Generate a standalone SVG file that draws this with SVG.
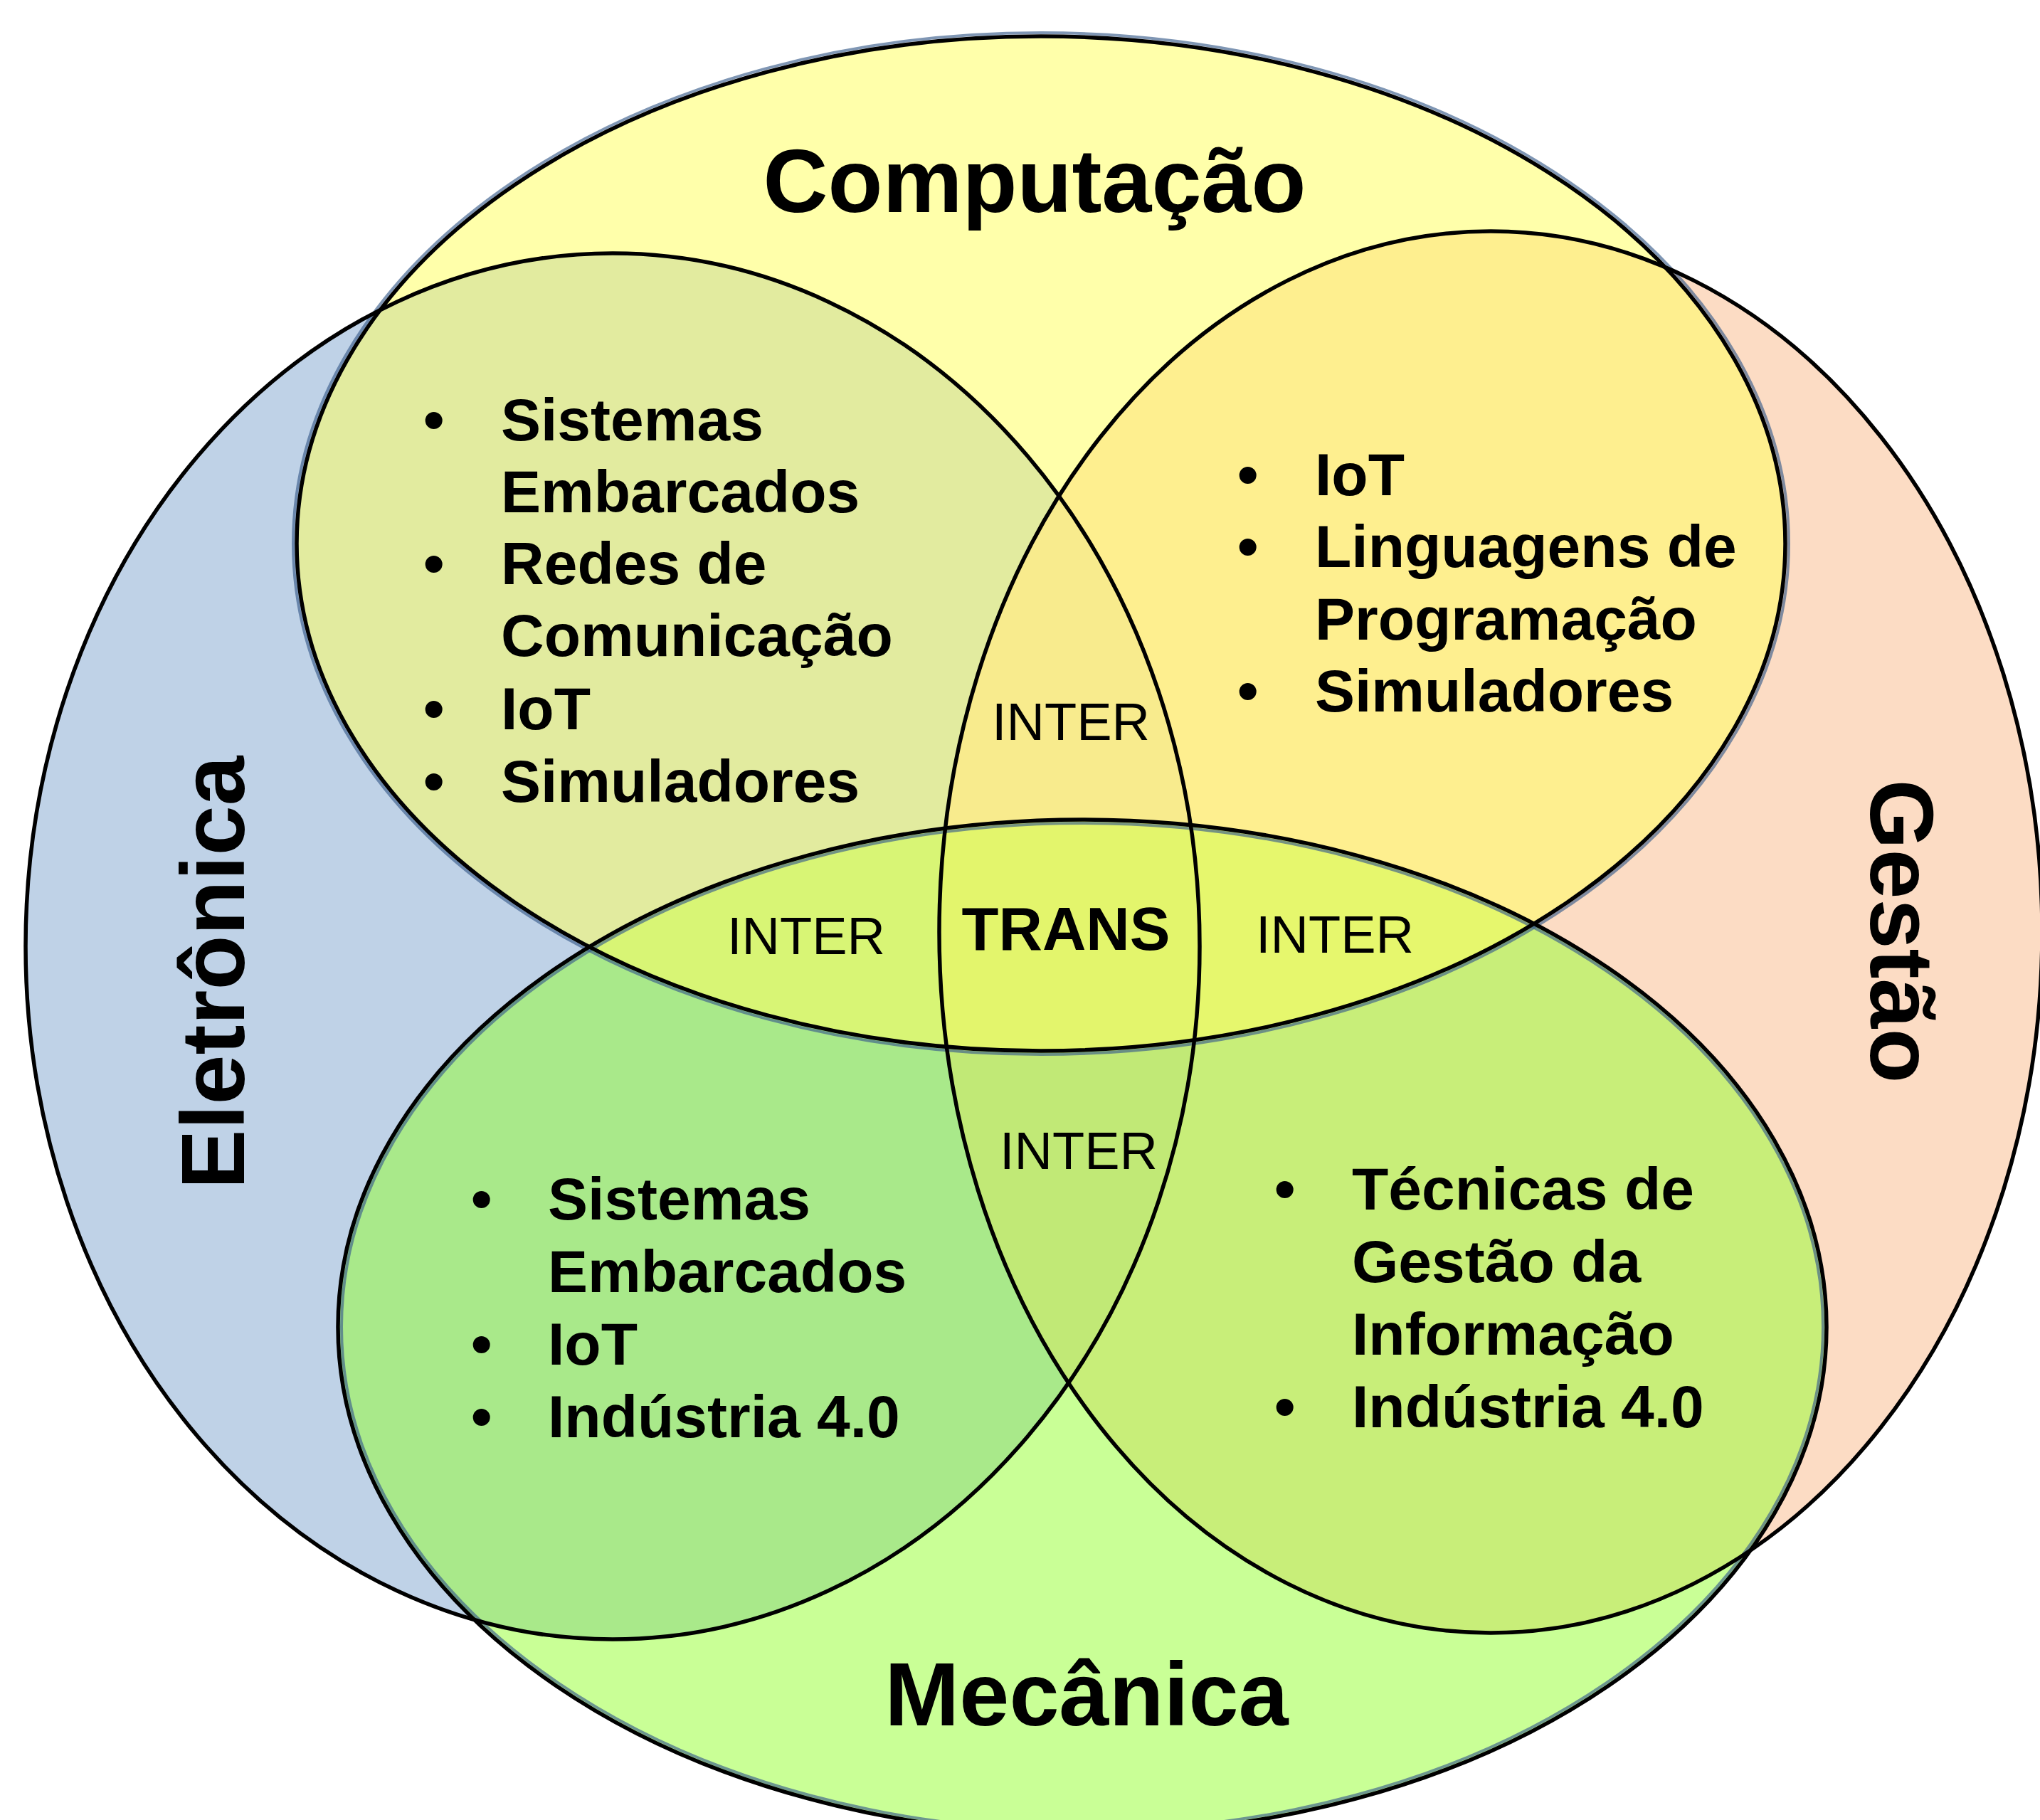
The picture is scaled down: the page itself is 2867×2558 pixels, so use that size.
<svg xmlns="http://www.w3.org/2000/svg" width="2867" height="2558" viewBox="0 0 2867 2558">
<style>
.t{font-family:"Liberation Sans",Arial,sans-serif;fill:#000}
.title{font-size:126px;font-weight:bold}
.item{font-size:84px;font-weight:bold}
.inter{font-size:74px;text-anchor:middle}
.trans{font-size:85px;font-weight:bold;text-anchor:middle}
.line{fill:none;stroke:#000;stroke-width:5.5}
.shade{fill:none;stroke:#3B5E8C;stroke-width:4;stroke-opacity:0.65}
</style>
<rect width="2867" height="2558" fill="#fff"/>
<g id="eletronica">
<ellipse cx="861" cy="1330" rx="825" ry="974" fill="#BFD2E7"/>
<text class="t title" text-anchor="middle" transform="translate(343,1367) rotate(-90)">Eletrônica</text>
</g>
<g id="gestao">
<ellipse cx="2095" cy="1310" rx="775" ry="985" fill="rgb(251,211,181)" fill-opacity="0.8"/>
<text class="t title" text-anchor="middle" transform="translate(2629,1309) rotate(90)">Gestão</text>
</g>
<g id="mecanica">
<ellipse cx="1521" cy="1865" rx="1046" ry="713" fill="rgb(147,255,45)" fill-opacity="0.5"/>
</g>
<g id="computacao">
<ellipse cx="1463" cy="764" rx="1046" ry="713" fill="rgb(255,255,100)" fill-opacity="0.55"/>
</g>
<g id="outlines">
<ellipse class="shade" cx="1463" cy="764" rx="1051" ry="718"/>
<ellipse class="shade" cx="1521" cy="1865" rx="1041" ry="708"/>
<ellipse class="line" cx="861" cy="1330" rx="825" ry="974"/>
<ellipse class="line" cx="2095" cy="1310" rx="775" ry="985"/>
<ellipse class="line" cx="1521" cy="1865" rx="1046" ry="713"/>
<ellipse class="line" cx="1463" cy="764" rx="1046" ry="713"/>
</g>
<g id="label-computacao">
<text class="t title" x="1454" y="298" text-anchor="middle">Computação</text>
</g>
<g id="label-mecanica">
<text class="t title" x="1527" y="2425" text-anchor="middle">Mecânica</text>
</g>
<g id="computacao-eletronica">
<text class="t item">
<tspan x="595" y="619">•</tspan><tspan x="704" y="619">Sistemas</tspan>
<tspan x="704" y="720">Embarcados</tspan>
<tspan x="595" y="821">•</tspan><tspan x="704" y="821">Redes de</tspan>
<tspan x="704" y="922">Comunicação</tspan>
<tspan x="595" y="1025">•</tspan><tspan x="704" y="1025">IoT</tspan>
<tspan x="595" y="1127">•</tspan><tspan x="704" y="1127">Simuladores</tspan>
</text>
</g>
<g id="computacao-gestao">
<text class="t item">
<tspan x="1739" y="696">•</tspan><tspan x="1848" y="696">IoT</tspan>
<tspan x="1739" y="797">•</tspan><tspan x="1848" y="797">Linguagens de</tspan>
<tspan x="1848" y="899">Programação</tspan>
<tspan x="1739" y="1000">•</tspan><tspan x="1848" y="1000">Simuladores</tspan>
</text>
</g>
<g id="mecanica-eletronica">
<text class="t item">
<tspan x="662" y="1714">•</tspan><tspan x="770" y="1714">Sistemas</tspan>
<tspan x="770" y="1816">Embarcados</tspan>
<tspan x="662" y="1918">•</tspan><tspan x="770" y="1918">IoT</tspan>
<tspan x="662" y="2020">•</tspan><tspan x="770" y="2020">Indústria 4.0</tspan>
</text>
</g>
<g id="mecanica-gestao">
<text class="t item">
<tspan x="1791" y="1700">•</tspan><tspan x="1900" y="1700">Técnicas de</tspan>
<tspan x="1900" y="1802">Gestão da</tspan>
<tspan x="1900" y="1904">Informação</tspan>
<tspan x="1791" y="2006">•</tspan><tspan x="1900" y="2006">Indústria 4.0</tspan>
</text>
</g>
<g id="inter-top"><text class="t inter" x="1505" y="1040">INTER</text></g>
<g id="inter-left"><text class="t inter" x="1133" y="1341">INTER</text></g>
<g id="inter-right"><text class="t inter" x="1876" y="1339">INTER</text></g>
<g id="inter-bottom"><text class="t inter" x="1516" y="1643">INTER</text></g>
<g id="trans"><text class="t trans" x="1498" y="1335">TRANS</text></g>
</svg>
